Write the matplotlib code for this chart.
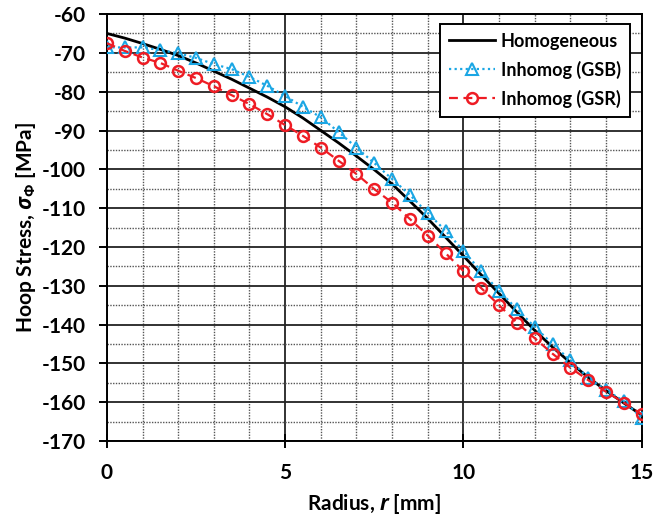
import matplotlib
matplotlib.use("Agg")
import matplotlib.pyplot as plt
from matplotlib.ticker import MultipleLocator

# Data
radius = [0.0, 0.5, 1.0, 1.5, 2.0, 2.5, 3.0, 3.5, 4.0, 4.5, 5.0, 5.5, 6.0, 6.5, 7.0,
          7.5, 8.0, 8.5, 9.0, 9.5, 10.0, 10.5, 11.0, 11.5, 12.0, 12.5, 13.0, 13.5, 14.0, 14.5, 15.0]

homogeneous = [-65.0, -66.2, -67.6, -69.1, -70.7, -72.6, -74.7, -76.8, -79.1, -81.4, -83.9,
               -86.8, -90.0, -93.2, -96.6, -100.1, -103.8, -108.2, -112.7, -117.5, -122.3,
               -127.2, -132.0, -136.8, -141.5, -145.8, -149.8, -153.6, -157.0, -160.2, -163.3]

gsb = [-68.6, -68.6, -68.6, -69.3, -70.1, -71.3, -72.9, -74.2, -76.2, -78.5, -81.1,
       -83.9, -86.6, -90.4, -94.4, -98.4, -102.5, -106.6, -111.3, -115.8, -121.0,
       -126.3, -131.3, -136.0, -140.6, -145.0, -149.2, -153.7, -156.9, -159.7, -164.0]

gsr = [-67.5, -69.5, -71.2, -72.6, -74.6, -76.5, -78.6, -80.9, -83.2, -85.8, -88.6,
       -91.4, -94.4, -97.8, -101.2, -105.1, -108.6, -112.8, -117.1, -121.6, -126.2,
       -130.6, -135.0, -139.5, -143.5, -147.5, -151.1, -154.3, -157.3, -160.1, -163.1]

FONT = ["Lato", "Open Sans", "DejaVu Sans"]
plt.rcParams["font.family"] = FONT
plt.rcParams["font.weight"] = "bold"
plt.rcParams["axes.unicode_minus"] = False
plt.rcParams["mathtext.fontset"] = "custom"
plt.rcParams["mathtext.it"] = "Open Sans:italic:bold"
plt.rcParams["mathtext.rm"] = "Open Sans:bold"
plt.rcParams["mathtext.bf"] = "Open Sans:bold"

fig = plt.figure(figsize=(6.72, 5.19), dpi=100)
ax = fig.add_axes([0.159, 0.150, 0.796, 0.823])

blue = "#1AA6E4"
red = "#EE1C24"

ax.plot(radius, homogeneous, color="black", lw=2.0, label="Homogeneous", zorder=4)
ax.plot(radius, gsb, color=blue, lw=1.6, ls=(0, (1, 1.5)), marker="^", ms=8.5,
        mfc="none", mec=blue, mew=1.5, label="Inhomog (GSB)", zorder=5)
ax.plot(radius, gsr, color=red, lw=1.6, ls=(0, (4, 2.5)), marker="o", ms=7.8,
        mfc="none", mec=red, mew=1.8, label="Inhomog (GSR)", zorder=6)

ax.set_xlim(0, 15)
ax.set_ylim(-170, -60)
ax.xaxis.set_major_locator(MultipleLocator(5))
ax.xaxis.set_minor_locator(MultipleLocator(1))
ax.yaxis.set_major_locator(MultipleLocator(10))
ax.yaxis.set_minor_locator(MultipleLocator(5))

ax.grid(which="major", color="#222222", lw=1.3, ls="-", zorder=1)
ax.grid(which="minor", color="#555555", lw=1.0, ls=(0, (1, 1)), zorder=1)
ax.set_axisbelow(True)

for s in ax.spines.values():
    s.set_color("black")
    s.set_linewidth(1.4)

ax.tick_params(axis="x", which="major", direction="inout", length=10, width=1.4,
               labelsize=15, pad=11)
ax.tick_params(axis="y", which="major", direction="out", length=6, width=1.4,
               labelsize=15, pad=9)
ax.tick_params(which="minor", length=0)
for lab in ax.get_xticklabels() + ax.get_yticklabels():
    lab.set_fontweight("bold")

ax.set_xlabel(r"Radius, $\mathit{r}$ [mm]", fontsize=15, fontweight="bold", labelpad=6)
ax.set_ylabel(r"Hoop Stress, $\mathit{\sigma}_{\Phi}$ [MPa]", fontsize=15, fontweight="bold", labelpad=3)

leg = ax.legend(loc="upper right", bbox_to_anchor=(0.988, 0.99), frameon=True, fancybox=False,
                edgecolor="black", framealpha=1, fontsize=13, handlelength=2.6,
                borderpad=0.5, labelspacing=0.6, handletextpad=0.3, borderaxespad=0.3)
leg.get_frame().set_linewidth(1.4)
for t in leg.get_texts():
    t.set_fontweight("bold")

fig.savefig("out.png", dpi=100)
